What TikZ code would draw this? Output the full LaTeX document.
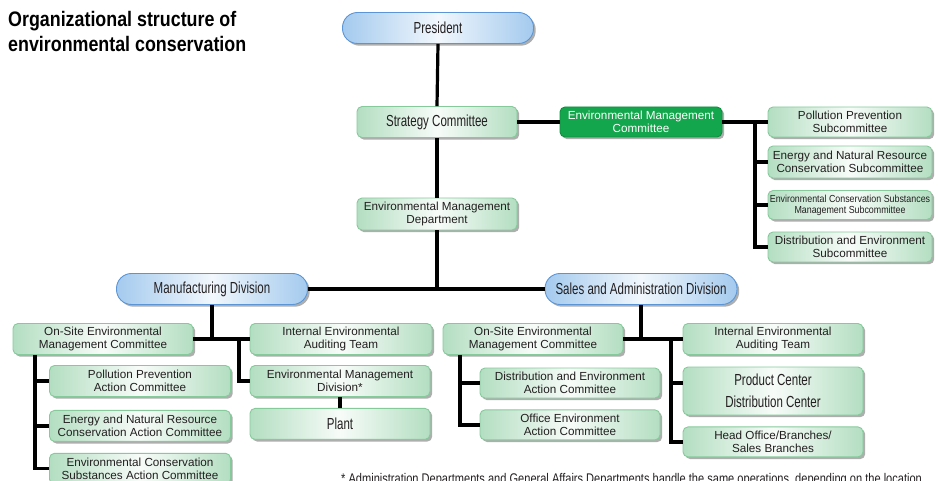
\documentclass[tikz,border=0pt]{standalone}
\usepackage{fontspec}
\setmainfont{Liberation Sans}
\newfontfamily\narrowfont{Liberation Sans}[FakeStretch=0.72]
\newfontfamily\titlefont{Liberation Sans}[FakeStretch=0.85]
\newfontfamily\smallfont{Liberation Sans}[FakeStretch=0.87]
\newfontfamily\notefont{Liberation Sans}[FakeStretch=0.79]
\usetikzlibrary{positioning,calc,shadows}
\definecolor{ink}{HTML}{231F20}
\definecolor{paleblue}{HTML}{A4CAEE}
\definecolor{edgeblue}{HTML}{5B95D5}
\definecolor{palegreen}{HTML}{B3DEC1}
\definecolor{edgegreen}{HTML}{86CA9C}
\definecolor{leafgreen}{HTML}{14A64C}
\definecolor{shadowgray}{HTML}{9A9A9A}

\begin{document}
\begin{tikzpicture}[
    x=1pt, y=-1pt,
    node distance=8pt,
    box/.style={rounded corners=5pt, line width=0.9pt, inner sep=0pt, align=center, text=ink,
      drop shadow={shadow xshift=2.2pt, shadow yshift=-2.2pt, fill=shadowgray, opacity=0.8}},
    unit/.style={box, draw=edgegreen, left color=palegreen, right color=palegreen,
      middle color=white!90!palegreen, minimum width=180pt, minimum height=31pt,
      font=\fontsize{11.7}{12.4}\selectfont},
    div/.style={box, rounded corners=15pt, draw=edgeblue, left color=paleblue,
      right color=paleblue, middle color=white!85!paleblue, minimum width=191pt,
      minimum height=31pt, font=\narrowfont\fontsize{16}{17}\selectfont},
    lead/.style={box, draw=leafgreen!85!black, fill=leafgreen, text=white,
      minimum width=162pt, minimum height=30pt, font=\fontsize{11.7}{12.4}\selectfont},
    big/.style={font=\narrowfont\fontsize{16}{17}\selectfont},
    link/.style={draw=black, line width=3.2pt}
  ]
  \useasboundingbox (0,0) rectangle (938,481);

  % title
  \node[anchor=north west, align=left, inner sep=0pt, text=black,
        font=\titlefont\bfseries\fontsize{21}{25}\selectfont] (title) at (8,11)
        {Organizational structure of\\environmental conservation};

  % head office column
  \node[div] (pres) at (438,28) {President};
  \node[unit, big, minimum width=160pt] (strat) at (437,122) {Strategy Committee};
  \node[lead] (emc) at (641,122) {Environmental Management\\Committee};
  \node[unit, minimum width=160pt, minimum height=32pt] (dept) at (437,214)
        {Environmental Management\\Department};

  % subcommittees
  \node[unit, minimum width=164pt, minimum height=30pt] (sub1) at (850,122)
        {Pollution Prevention\\Subcommittee};
  \node[unit, minimum width=164pt, minimum height=32pt] (sub2) at (850,162)
        {Energy and Natural Resource\\Conservation Subcommittee};
  \node[unit, minimum width=164pt, minimum height=29pt, font=\smallfont\fontsize{10.2}{11}\selectfont]
        (sub3) at (850,205) {Environmental Conservation Substances\\Management Subcommittee};
  \node[unit, minimum width=164pt, minimum height=30pt] (sub4) at (850,247)
        {Distribution and Environment\\Subcommittee};

  % divisions
  \node[div] (mfg) at (212,289) {Manufacturing Division};
  \node[div, minimum width=192pt] (sales) at (641,289) {Sales and Administration Division};

  % manufacturing side
  \node[unit] (onm) at (103,339) {On-Site Environmental\\Management Committee};
  \node[unit, minimum width=182pt] (iam) at (341,339) {Internal Environmental\\Auditing Team};
  \node[unit] (emd) at (340,381) {Environmental Management\\Division*};
  \node[unit, big, below=11pt of emd] (plant) {Plant};
  \node[unit, minimum width=181pt] (pa) at (140,381) {Pollution Prevention\\Action Committee};
  \node[unit, minimum width=181pt, below=13pt of pa] (ea)
        {Energy and Natural Resource\\Conservation Action Committee};
  \node[unit, minimum width=181pt, below=11pt of ea] (sa)
        {Environmental Conservation\\Substances Action Committee};

  % sales side
  \node[unit] (ons) at (533,339) {On-Site Environmental\\Management Committee};
  \node[unit] (ias) at (773,339) {Internal Environmental\\Auditing Team};
  \node[unit, minimum height=30pt] (da) at (570,383) {Distribution and Environment\\Action Committee};
  \node[unit, minimum height=30pt, below=11pt of da] (oa) {Office Environment\\Action Committee};
  \node[unit, minimum height=48pt, font=\narrowfont\fontsize{16}{22}\selectfont] (prod) at (773,391)
        {Product Center\\Distribution Center};
  \node[unit, minimum height=30pt, below=11pt of prod] (hq) {Head Office/Branches/\\Sales Branches};

  % bus points
  \coordinate (subbus) at (755,122);
  \coordinate (mbus) at (239,339);
  \coordinate (lbus) at (35,339);
  \coordinate (rbus) at (671,339);
  \coordinate (dbus) at (460,339);

  % connectors
  \draw[link] (pres.south) -- (strat.north);
  \draw[link] (strat.south) -- (dept.north);
  \draw[link] (dept.south) -- (dept.south |- mfg.east);
  \draw[link] (strat.east) -- (emc.west);
  \draw[link] (emc.east) -- (sub1.west);
  \draw[link] (subbus) |- (sub4.west);
  \draw[link] (subbus |- sub2.west) -- (sub2.west);
  \draw[link] (subbus |- sub3.west) -- (sub3.west);
  \draw[link] (mfg.east) -- (sales.west);

  \draw[link] (mfg.south) -- (mfg.south |- onm.east);
  \draw[link] (onm.east) -- (iam.west);
  \draw[link] (mbus) |- (emd.west);
  \draw[link] (emd.south) -- (plant.north);
  \draw[link] (lbus |- onm.south) |- (sa.west);
  \draw[link] (lbus |- pa.west) -- (pa.west);
  \draw[link] (lbus |- ea.west) -- (ea.west);

  \draw[link] (sales.south) -- (sales.south |- ons.east);
  \draw[link] (ons.east) -- (ias.west);
  \draw[link] (rbus) |- (hq.west);
  \draw[link] (rbus |- da.west) -- (prod.west |- da.west);
  \draw[link] (dbus |- ons.south) |- (oa.west);
  \draw[link] (dbus |- da.west) -- (da.west);

  % footnote
  \node[anchor=base west, inner sep=0pt, text=ink, font=\notefont\fontsize{14}{15}\selectfont]
        (note) at (341,483) {* Administration Departments and General Affairs Departments handle the same operations, depending on the location.};
\end{tikzpicture}
\end{document}
